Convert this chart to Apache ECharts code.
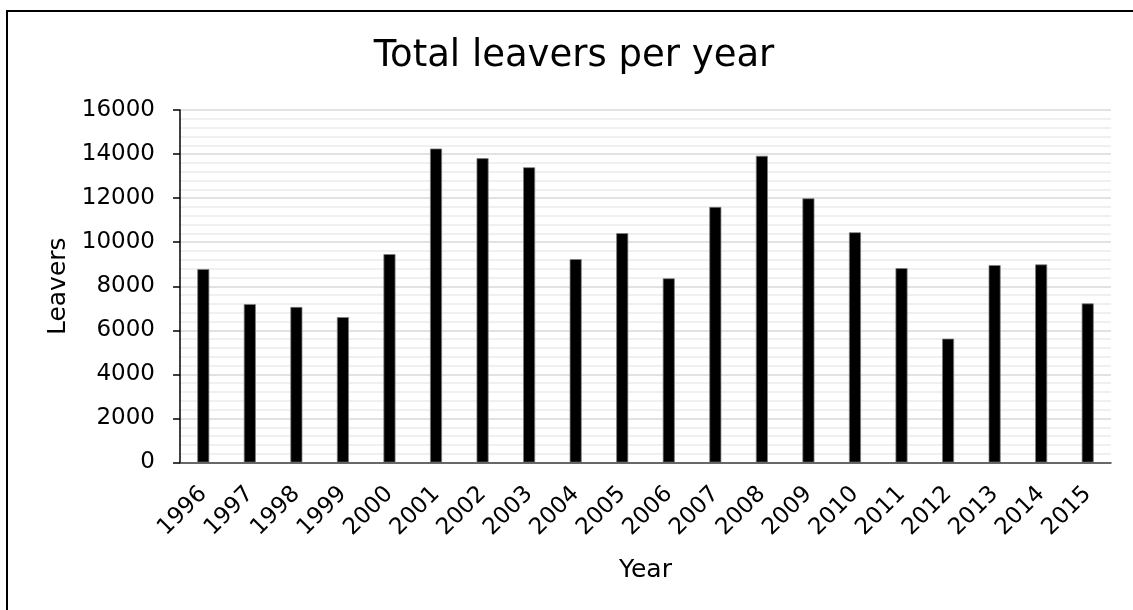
<!DOCTYPE html>
<html>
<head>
<meta charset="utf-8">
<script src="https://cdn.jsdelivr.net/npm/echarts@6/dist/echarts.min.js"></script>
<style>
  html, body { margin: 0; padding: 0; background: #fff; }
  #chart { width: 1133px; height: 610px; }
</style>
</head>
<body>
<div id="chart"></div>
<script>
// Leavers recorded each year
const years = ['1996','1997','1998','1999','2000','2001','2002','2003','2004','2005',
               '2006','2007','2008','2009','2010','2011','2012','2013','2014','2015'];
const leavers = [8780, 7190, 7060, 6600, 9460, 14250, 13810, 13400, 9230, 10410,
                 8360, 11600, 13920, 11990, 10450, 8820, 5620, 8960, 8990, 7220];
const yTicks = { min: 0, max: 16000, interval: 2000 };

const FONT = '"DejaVu Sans", Verdana, sans-serif';
const chart = echarts.init(document.getElementById('chart'), null, { renderer: 'canvas' });

chart.setOption({
  backgroundColor: '#fff',
  animation: false,
  graphic: [
    { type: 'rect', z: 100, silent: true,
      shape: { x: 7, y: 11, width: 1200, height: 640 },
      style: { fill: 'none', stroke: '#000', lineWidth: 2 } },
    { type: 'text', x: 574, y: 56,
      style: { text: 'Total leavers per year', font: '37px ' + FONT, fill: '#000',
               textAlign: 'center', textVerticalAlign: 'middle' } }
  ],
  grid: { left: 180, right: 22, top: 110, bottom: 147.5, containLabel: false },
  xAxis: {
    type: 'category',
    data: years,
    name: 'Year',
    nameLocation: 'middle',
    nameGap: 95,
    nameTextStyle: { fontFamily: FONT, fontSize: 25, color: '#000' },
    axisLine: { lineStyle: { color: '#404040', width: 1.5 } },
    axisTick: { show: false },
    axisLabel: { rotate: 45, margin: 28, fontFamily: FONT, fontSize: 23, color: '#000', interval: 0 }
  },
  yAxis: {
    type: 'value',
    min: yTicks.min, max: yTicks.max, interval: yTicks.interval,
    name: 'Leavers',
    nameLocation: 'middle',
    nameGap: 101,
    nameTextStyle: { fontFamily: FONT, fontSize: 25, color: '#000' },
    axisLine: { show: true, lineStyle: { color: '#000', width: 1.5 } },
    axisTick: { show: true, length: 7, lineStyle: { color: '#000', width: 1.5 } },
    axisLabel: { margin: 25, fontFamily: FONT, fontSize: 23, color: '#000',
                 formatter: v => String(v) },
    splitLine: { show: true, lineStyle: { color: '#d9d9d9', width: 1.5 } },
    minorTick: { show: false, splitNumber: 5 },
    minorSplitLine: { show: true, lineStyle: { color: '#ececec', width: 1.5 } }
  },
  series: [{
    type: 'bar',
    data: leavers,
    barWidth: 12,
    itemStyle: { color: '#000', borderColor: '#7f7f7f', borderWidth: 0.75 }
  }]
});
</script>
</body>
</html>
